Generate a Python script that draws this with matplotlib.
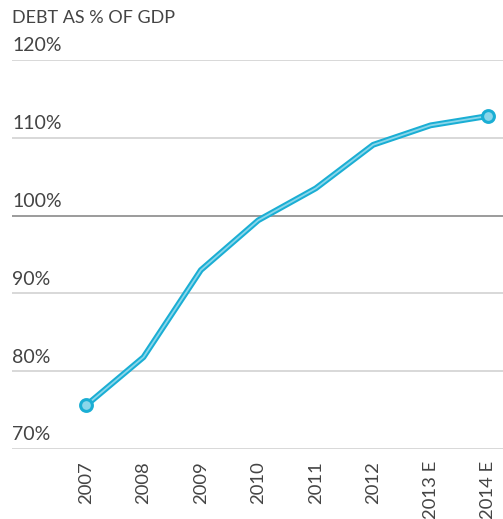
import matplotlib
matplotlib.use("Agg")
import matplotlib.pyplot as plt

years = ["2007", "2008", "2009", "2010", "2011", "2012", "2013 E", "2014 E"]
debt = [75.6, 81.8, 93.0, 99.4, 103.5, 109.1, 111.6, 112.8]
yticks = [70, 80, 90, 100, 110, 120]
ytick_labels = ["70%", "80%", "90%", "100%", "110%", "120%"]
title = "DEBT AS % OF GDP"

plt.rcParams['font.family'] = ['Lato', 'DejaVu Sans']

fig = plt.figure(figsize=(5.03, 5.19), dpi=100)
ax = fig.add_axes([12/503, (519-449)/519, 491/503, 389/519])
ax.set_xlim(-74/57.4, 7 + 15/57.4)
ax.set_ylim(70, 120)

for t, lab in zip(yticks, ytick_labels):
    col = '#8a8a8a' if t == 100 else '#d2d2d2'
    ax.axhline(t, color=col, lw=1.2, zorder=1)
    ax.annotate(lab, xy=(0, t), xycoords=('axes fraction', 'data'),
                xytext=(0, 4), textcoords='offset points',
                ha='left', va='bottom', fontsize=14, color='#444444')

xs = list(range(len(years)))
ax.plot(xs, debt, color='#1aaed4', lw=4.2, solid_capstyle='round', zorder=3)
ax.plot(xs, debt, color='#8ad6ea', lw=1.3, solid_capstyle='round', zorder=4)
ax.plot([xs[0], xs[-1]], [debt[0], debt[-1]], 'o', ms=8.5, mfc='#8ad6ea',
        mec='#1aaed4', mew=2.2, zorder=5, ls='none')

for x, lab in zip(xs, years):
    ax.annotate(lab, xy=(x, 0), xycoords=('data', 'axes fraction'),
                xytext=(0, -8.5), textcoords='offset points',
                ha='center', va='top', rotation=90, fontsize=13.3, color='#444444')

ax.set_xticks([])
ax.set_yticks([])
for s in ax.spines.values():
    s.set_visible(False)
ax.patch.set_alpha(0)

fig.text(12/503, 1 - 18/519, title, ha='left', va='center', fontsize=13, color='#444444')

fig.savefig('out.png', dpi=100)
